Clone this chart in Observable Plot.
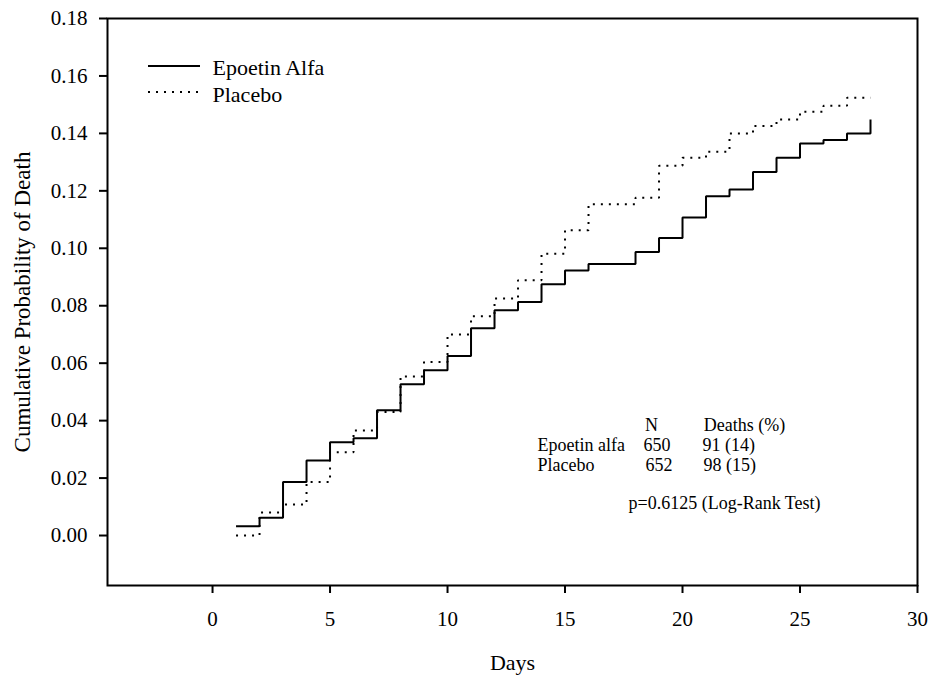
<!DOCTYPE html>
<html>
<head>
<meta charset="utf-8">
<script src="https://cdn.jsdelivr.net/npm/d3@7"></script>
<script src="https://cdn.jsdelivr.net/npm/@observablehq/plot@0.6"></script>
<style>
  html, body { margin: 0; padding: 0; background: white; }
</style>
</head>
<body>
<div id="chart"></div>
<script>
const days = [1,2,3,4,5,6,7,8,9,10,11,12,13,14,15,16,17,18,19,20,21,22,23,24,25,26,27,28];
const epoetin = [0.0032,0.0062,0.0186,0.0261,0.0325,0.0339,0.0436,0.0527,0.0575,0.0625,0.0722,0.0784,0.0813,0.0875,0.0923,0.0945,0.0945,0.0987,0.1036,0.1107,0.1181,0.1205,0.1266,0.1315,0.1365,0.1377,0.1400,0.1448];
const placebo = [0.0000,0.0080,0.0108,0.0186,0.0290,0.0366,0.0430,0.0554,0.0604,0.0700,0.0763,0.0825,0.0889,0.0981,0.1063,0.1153,0.1153,0.1176,0.1287,0.1315,0.1336,0.1400,0.1426,0.1448,0.1475,0.1496,0.1524,0.1524];
const seriesNames = ["Epoetin Alfa", "Placebo"];
const xTicks = [0,5,10,15,20,25,30];
const yTicks = [0,0.02,0.04,0.06,0.08,0.10,0.12,0.14,0.16,0.18];
const tableHeader = ["N", "Deaths (%)"];
const tableRows = [
  ["Epoetin alfa", "650", "91 (14)"],
  ["Placebo", "652", "98 (15)"]
];
const pText = "p=0.6125 (Log-Rank Test)";

const epoData = days.map((d, i) => ({day: d, p: epoetin[i]}));
const plaData = days.map((d, i) => ({day: d, p: placebo[i]}));

const ML = 107, MT = 18;
const font = "'Liberation Serif', 'Times New Roman', serif";
function txt(s, x, y, opts = {}) {
  return Plot.text([s], {
    frameAnchor: "top-left", dx: x - ML, dy: y - MT,
    lineAnchor: "bottom", textAnchor: "start", fill: "black",
    fontSize: 18, ...opts
  });
}

const svg = Plot.plot({
  width: 933,
  height: 675,
  marginLeft: ML,
  marginRight: 16,
  marginTop: MT,
  marginBottom: 90,
  style: {fontFamily: font, fontSize: "21px", background: "white", color: "black"},
  x: {domain: [-4.47, 30]},
  y: {domain: [-0.0174, 0.18]},
  marks: [
    Plot.frame({stroke: "black", strokeWidth: 2}),
    Plot.axisX({ticks: xTicks, tickSize: 8, tickPadding: 18, strokeWidth: 2, label: null, fontSize: 21, tickFormat: d3.format("d")}),
    Plot.axisY({ticks: yTicks, tickSize: 8, tickPadding: 12, strokeWidth: 2, label: null, fontSize: 21, tickFormat: d3.format(".2f")}),
    Plot.line(plaData, {x: "day", y: "p", curve: "step-after", stroke: "black", strokeWidth: 2, strokeDasharray: "2,6", strokeLinecap: "butt", strokeLinejoin: "miter"}),
    Plot.line(epoData, {x: "day", y: "p", curve: "step-after", stroke: "black", strokeWidth: 2, strokeLinecap: "butt", strokeLinejoin: "miter"}),
    Plot.text(["Days"], {frameAnchor: "bottom", dy: 84, lineAnchor: "bottom", fontSize: 22, fill: "black"}),
    Plot.text(["Cumulative Probability of Death"], {frameAnchor: "left", dx: -85, dy: 0, rotate: -90, textAnchor: "middle", fontSize: 23, fill: "black"}),
    txt(seriesNames[0], 212, 74, {fontSize: 22}),
    txt(seriesNames[1], 212, 101, {fontSize: 22}),
    txt(tableHeader[0], 651, 430, {textAnchor: "middle"}),
    txt(tableHeader[1], 744, 430, {textAnchor: "middle"}),
    txt(tableRows[0][0], 537, 450),
    txt(tableRows[0][1], 643, 450),
    txt(tableRows[0][2], 702, 450),
    txt(tableRows[1][0], 537, 470),
    txt(tableRows[1][1], 645, 470),
    txt(tableRows[1][2], 703, 470),
    txt(pText, 628, 508)
  ]
});

const g = d3.select(svg).append("g").attr("stroke", "black").attr("stroke-width", 2);
g.append("line").attr("x1", 148).attr("x2", 200).attr("y1", 66).attr("y2", 66);
g.append("line").attr("x1", 148).attr("x2", 200).attr("y1", 92).attr("y2", 92).attr("stroke-dasharray", "2,6");

document.getElementById("chart").appendChild(svg);
</script>
</body>
</html>
